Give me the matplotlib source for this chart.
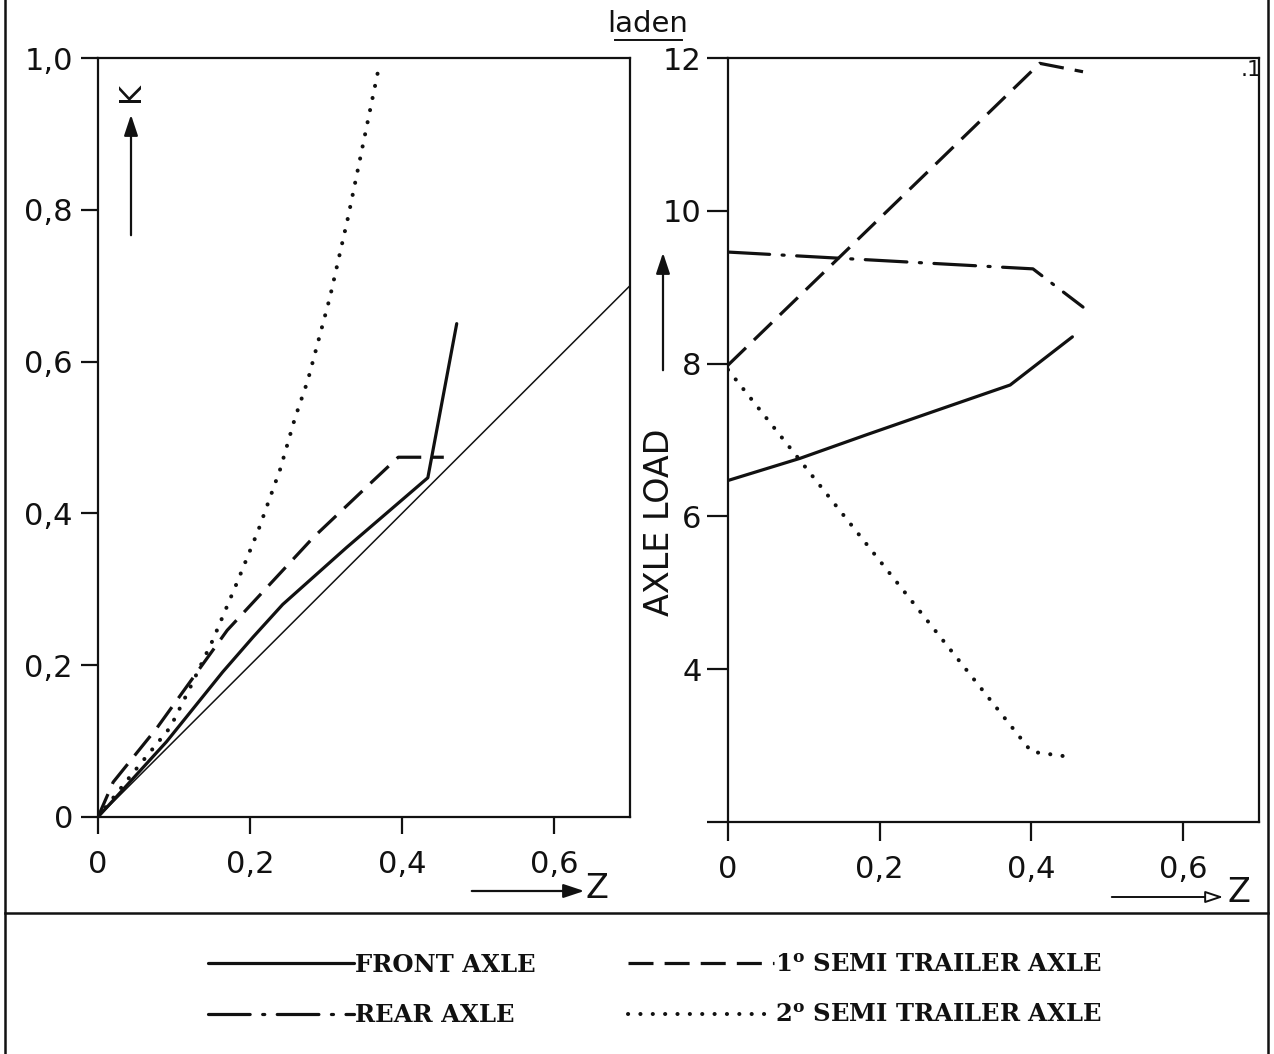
import matplotlib
matplotlib.use("Agg")
import matplotlib.pyplot as plt
from matplotlib.lines import Line2D
from matplotlib.patches import FancyArrowPatch

plt.rcParams["font.family"] = ["DejaVu Sans"]
plt.rcParams["mathtext.fontset"] = "dejavuserif"
plt.rcParams["lines.scale_dashes"] = False

# ---- braking coefficient K versus deceleration Z (laden) ----
z_ideal = [0.0, 0.70]
k_ideal = [0.0, 0.70]

z_front = [0.0, 0.09, 0.164, 0.204, 0.243, 0.327, 0.434, 0.472]
k_front = [0.0, 0.099, 0.191, 0.237, 0.28, 0.355, 0.447, 0.65]

z_semi1 = [0.0, 0.02, 0.078, 0.17, 0.283, 0.362, 0.395, 0.455]
k_semi1 = [0.0, 0.046, 0.118, 0.246, 0.368, 0.443, 0.474, 0.474]

z_semi2 = [0.0, 0.046, 0.095, 0.121, 0.151, 0.183, 0.211, 0.24, 0.259,
           0.276, 0.305, 0.329, 0.37]
k_semi2 = [0.0, 0.058, 0.118, 0.17, 0.233, 0.309, 0.378, 0.459, 0.525,
           0.575, 0.684, 0.79, 0.99]

# ---- axle load versus deceleration Z (laden) ----
zl_front = [0.0, 0.095, 0.183, 0.27, 0.372, 0.454]
load_front = [6.47, 6.76, 7.07, 7.37, 7.72, 8.35]
zl_rear = [0.0, 0.291, 0.402, 0.468]
load_rear = [9.46, 9.30, 9.24, 8.74]
zl_semi1 = [0.0, 0.411, 0.468]
load_semi1 = [7.98, 11.93, 11.82]
zl_semi2 = [0.0, 0.40, 0.452]
load_semi2 = [7.92, 2.92, 2.85]

z_ticks = [0.0, 0.2, 0.4, 0.6]
z_labels = ["0", "0,2", "0,4", "0,6"]
k_ticks = [0.0, 0.2, 0.4, 0.6, 0.8, 1.0]
k_labels = ["0", "0,2", "0,4", "0,6", "0,8", "1,0"]
load_ticks = [2, 4, 6, 8, 10, 12]
load_labels = ["", "4", "6", "8", "10", "12"]

legend_labels = ["FRONT AXLE", "REAR AXLE",
                 r"1$^{\mathbf{o}}$ SEMI TRAILER AXLE",
                 r"2$^{\mathbf{o}}$ SEMI TRAILER AXLE"]

W, H = 1274, 1054
fig = plt.figure(figsize=(W / 100, H / 100), dpi=100)
fig.patch.set_facecolor("white")


def fx(x):
    return x / W


def fy(y):
    return 1 - y / H


ink = "#111111"
lw_thick = 2.3
solid = dict(color=ink, lw=lw_thick, solid_capstyle="round", solid_joinstyle="round")
dashed = dict(color=ink, lw=lw_thick, linestyle=(0, (18, 8)))
dashdot = dict(color=ink, lw=lw_thick, linestyle=(0, (30, 9, 1.5, 9)),
               dash_capstyle="round")
dotted = dict(color=ink, lw=lw_thick + 0.6, linestyle=(0, (0.1, 8.8)),
              dash_capstyle="round")

ax1 = fig.add_axes([fx(98), fy(817), fx(630) - fx(98), fy(58) - fy(817)])
ax2 = fig.add_axes([fx(728), fy(822), fx(1259) - fx(728), fy(58) - fy(822)])

# left panel
ax1.plot(z_ideal, k_ideal, color=ink, lw=1.1)
ax1.plot(z_front, k_front, **solid)
ax1.plot(z_semi1, k_semi1, **dashed)
ax1.plot(z_semi2, k_semi2, **dotted)
ax1.set_xlim(0, 0.70)
ax1.set_ylim(0, 1.0)
ax1.set_xticks(z_ticks, z_labels)
ax1.set_yticks(k_ticks, k_labels)
ax1.tick_params(axis="y", length=12, width=1.6, pad=6, labelsize=22, color=ink)
ax1.tick_params(axis="x", length=12, width=1.6, pad=12, labelsize=22, color=ink)

# right panel
h_front, = ax2.plot(zl_front, load_front, **solid)
h_rear, = ax2.plot(zl_rear, load_rear, **dashdot)
h_semi1, = ax2.plot(zl_semi1, load_semi1, **dashed)
h_semi2, = ax2.plot(zl_semi2, load_semi2, **dotted)
ax2.set_xlim(0, 0.70)
ax2.set_ylim(2, 12)
ax2.set_xticks(z_ticks, z_labels)
ax2.set_yticks(load_ticks, load_labels)
ax2.tick_params(axis="y", length=15, width=1.6, pad=4, labelsize=22, color=ink)
ax2.tick_params(axis="x", length=14, width=1.6, pad=10, labelsize=22, color=ink)

for ax in (ax1, ax2):
    for sp in ax.spines.values():
        sp.set_linewidth(1.6)
        sp.set_color(ink)
    ax.set_facecolor("none")
    for t in ax.get_xticklabels() + ax.get_yticklabels():
        t.set_color(ink)

# axis captions with arrows
arrow = dict(arrowstyle="-|>,head_length=0.9,head_width=0.3", color=ink, lw=1.6)
fig.text(fx(131), fy(92), "K", rotation=90, ha="center", va="center", fontsize=22, color=ink)
fig.add_artist(FancyArrowPatch(
    (fx(131), fy(238)), (fx(131), fy(112)), transform=fig.transFigure,
    mutation_scale=14, **arrow))

fig.text(fx(660), fy(522), "AXLE LOAD", rotation=90, ha="center", va="center",
         fontsize=24, color=ink)
fig.add_artist(FancyArrowPatch(
    (fx(663), fy(373)), (fx(663), fy(250)), transform=fig.transFigure,
    mutation_scale=14, **arrow))

fig.text(fx(597), fy(888), "Z", ha="center", va="center", fontsize=24, color=ink)
fig.add_artist(FancyArrowPatch(
    (fx(469), fy(891)), (fx(587), fy(891)), transform=fig.transFigure,
    mutation_scale=14, **arrow))
fig.text(fx(1239), fy(893), "Z", ha="center", va="center", fontsize=24, color=ink)
fig.add_artist(FancyArrowPatch(
    (fx(1109), fy(897)), (fx(1226), fy(897)), transform=fig.transFigure,
    mutation_scale=12, arrowstyle="-|>,head_length=0.9,head_width=0.3",
    edgecolor=ink, facecolor="white", lw=1.4))

# heading
fig.text(fx(648), fy(24), "laden", ha="center", va="center", fontsize=21, color=ink)
fig.add_artist(Line2D([fx(615), fx(682)], [fy(40), fy(40)], color=ink, lw=1.4))
fig.text(fx(1251), fy(70), ".1", ha="center", va="center", fontsize=16, color=ink)

# outer frame and legend panel divider
fig.add_artist(Line2D([fx(5), fx(5)], [0, 1], color=ink, lw=1.8))
fig.add_artist(Line2D([fx(1268), fx(1268)], [0, 1], color=ink, lw=1.8))
fig.add_artist(Line2D([fx(5), fx(1268)], [fy(913), fy(913)], color=ink, lw=1.8))

leg = fig.legend([h_front, h_rear, h_semi1, h_semi2], legend_labels,
                 ncol=2, loc="center", bbox_to_anchor=(fx(655), fy(990)),
                 frameon=False, handlelength=6.0, handletextpad=0.05,
                 columnspacing=3.8, labelspacing=1.1,
                 prop=dict(family="DejaVu Serif", size=17.5, weight="bold"))
for t in leg.get_texts():
    t.set_color(ink)

fig.savefig("out.png", dpi=100, facecolor="white")
